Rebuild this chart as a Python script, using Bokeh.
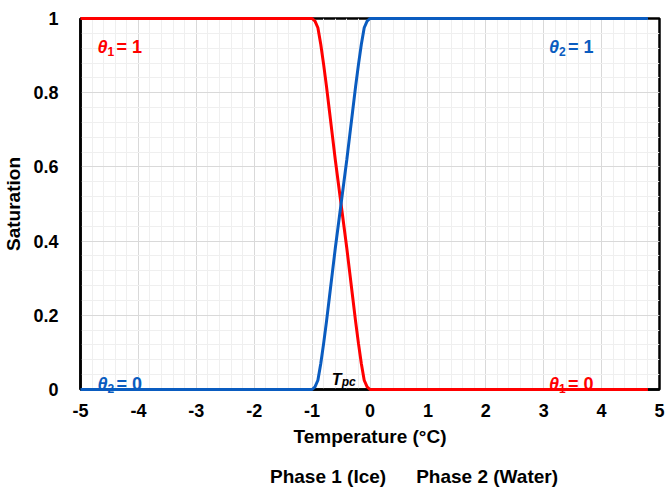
from bokeh.plotting import figure
from bokeh.layouts import column
from bokeh.models import FixedTicker, Legend, LegendItem, Range1d
from bokeh.core.properties import value
from bokeh.embed import file_html
from bokeh.resources import INLINE

# ---- data ----
temp_ice = [-5, -1, -0.95, -0.9, -0.85, -0.8, -0.75, -0.7, -0.65, -0.6, -0.55, -0.5,
            -0.45, -0.4, -0.35, -0.3, -0.25, -0.2, -0.15, -0.1, -0.05, 0, 4.8]
sat_ice = [1, 1, 0.993, 0.975, 0.93, 0.875, 0.815, 0.75, 0.685, 0.62, 0.56, 0.5,
           0.44, 0.38, 0.315, 0.25, 0.185, 0.125, 0.07, 0.025, 0.007, 0, 0]
temp_water = [-5, -1, -0.95, -0.9, -0.85, -0.8, -0.75, -0.7, -0.65, -0.6, -0.55, -0.5,
              -0.45, -0.4, -0.35, -0.3, -0.25, -0.2, -0.15, -0.1, -0.05, 0, 4.8]
sat_water = [0, 0, 0.007, 0.025, 0.07, 0.125, 0.185, 0.25, 0.315, 0.38, 0.44, 0.5,
             0.56, 0.62, 0.685, 0.75, 0.815, 0.875, 0.93, 0.975, 0.993, 1, 1]

x_ticks = [-5, -4, -3, -2, -1, 0, 1, 2, 3, 4, 5]
x_tick_labels = ["-5", "-4", "-3", "-2", "-1", "0", "1", "2", "3", "4", "5"]
y_ticks = [0, 0.2, 0.4, 0.6, 0.8, 1]
y_tick_labels = ["0", "0.2", "0.4", "0.6", "0.8", "1"]

series_names = ["Phase 1 (Ice)", "Phase 2 (Water)"]
x_title = "Temperature (°C)"
y_title = "Saturation"

RED = "#ff0000"
BLUE = "#0a5cc0"
FONT = "Liberation Sans"

p = figure(width=665, height=455,
           min_border_left=70, min_border_right=6, min_border_top=18, min_border_bottom=66,
           x_range=Range1d(-5, 5), y_range=Range1d(0, 1),
           output_backend="svg", toolbar_location=None,
           background_fill_color="white", border_fill_color="white")

# grids
x_minor = [round(-5 + 0.2 * i, 2) for i in range(51)]
y_minor = [round(0.04 * i, 2) for i in range(26)]
p.xaxis.ticker = FixedTicker(ticks=x_ticks, minor_ticks=x_minor)
p.yaxis.ticker = FixedTicker(ticks=y_ticks, minor_ticks=y_minor)
p.xaxis.major_label_overrides = dict(zip(x_ticks, x_tick_labels))
p.yaxis.major_label_overrides = dict(zip(y_ticks, y_tick_labels))

for g in (p.xgrid, p.ygrid):
    g.grid_line_color = "#d9d9d9"
    g.grid_line_width = 1
    g.minor_grid_line_color = "#efefef"
    g.minor_grid_line_width = 1

p.outline_line_color = "black"
p.outline_line_width = 2.5

for ax in (p.xaxis, p.yaxis):
    ax.axis_line_color = "black"
    ax.axis_line_width = 2.5
    ax.major_tick_line_color = None
    ax.minor_tick_line_color = None
    ax.major_label_text_font = FONT
    ax.major_label_text_font_style = "bold"
    ax.major_label_text_font_size = "18px"
    ax.major_label_text_color = "black"
    ax.axis_label_text_font = FONT
    ax.axis_label_text_font_style = "bold"
    ax.axis_label_text_font_size = "19px"
    ax.axis_label_text_color = "black"

p.xaxis.axis_label = x_title
p.yaxis.axis_label = y_title
p.xaxis.major_label_standoff = 8
p.xaxis.axis_label_standoff = 6
p.yaxis.major_label_standoff = 16
p.yaxis.axis_label_standoff = 6

r_ice = p.line(temp_ice, sat_ice, line_color=RED, line_width=3)
r_water = p.line(temp_water, sat_water, line_color=BLUE, line_width=3)
r_ice.level = "overlay"
r_water.level = "overlay"


def add_text(x, y, txt, color, size, style, dx=0, dy=0):
    r = p.text(x=[x], y=[y], text=[txt], text_color=color,
               text_font=value(FONT), text_font_size=size, text_font_style=style,
               text_align="left", text_baseline="alphabetic",
               x_offset=dx, y_offset=dy)
    r.level = "overlay"


def theta_label(x, y, sub, val, color):
    add_text(x, y, "θ", color, "18px", "bold italic")
    add_text(x, y, sub, color, "12px", "bold", dx=10, dy=4)
    add_text(x, y, "= " + val, color, "18px", "bold", dx=19)


theta_label(-4.707, 0.923, "1", "1", RED)
theta_label(3.09, 0.923, "2", "1", BLUE)
theta_label(-4.707, 0.0145, "2", "0", BLUE)
theta_label(3.09, 0.0145, "1", "0", RED)
add_text(-0.66, 0.027, "T", "black", "16px", "bold italic")
add_text(-0.66, 0.027, "pc", "black", "12px", "bold italic", dx=10, dy=3)

# ---- legend strip below the chart ----
leg = figure(width=665, height=34, x_range=Range1d(0, 1), y_range=Range1d(0, 1),
             x_axis_location=None, y_axis_location=None,
             min_border=0, min_border_left=0, min_border_right=0,
             min_border_top=0, min_border_bottom=0,
             output_backend="svg", toolbar_location=None,
             background_fill_color="white", border_fill_color="white")
leg.outline_line_color = None
leg.grid.visible = False
g_ice = leg.line(x=[], y=[], line_color=RED, line_width=3)
g_water = leg.line(x=[], y=[], line_color=BLUE, line_width=3)

legend = Legend(items=[LegendItem(label=series_names[0], renderers=[g_ice]),
                       LegendItem(label=series_names[1], renderers=[g_water])],
                orientation="horizontal", location=(168, 1),
                label_text_font=FONT, label_text_font_style="bold",
                label_text_font_size="19px", label_text_color="black",
                glyph_width=20, glyph_height=20, label_standoff=2, spacing=8,
                padding=0, margin=0, border_line_color=None,
                background_fill_alpha=0)
leg.add_layout(legend, "center")

layout = column(p, leg, spacing=0)
open("out.html", "w").write(file_html(layout, INLINE))
